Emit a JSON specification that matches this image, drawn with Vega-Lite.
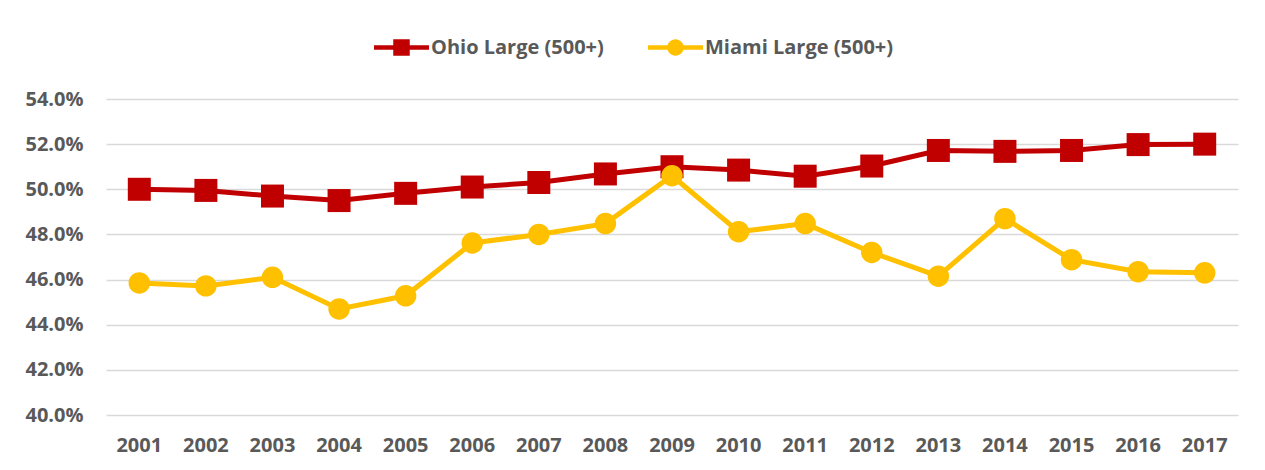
{
  "$schema": "https://vega.github.io/schema/vega-lite/v6.json",
  "autosize": {"type": "none"},
  "padding": {"left": 106, "top": 99, "right": 27, "bottom": 55},
  "width": 1132,
  "height": 316,
  "background": "white",
  "config": {
    "font": "Open Sans",
    "view": {"stroke": null},
    "legend": {
      "title": null, "labelFontSize": 20, "labelFontWeight": "bold", "labelColor": "#595959",
      "labelLimit": 400, "symbolSize": 3025, "labelOffset": 2, "symbolStrokeWidth": 0,
      "orient": "none", "direction": "horizontal"
    }
  },
  "data": {
    "values": [
      {"year": "2001", "series": "Ohio Large (500+)", "value": 0.5000},
      {"year": "2002", "series": "Ohio Large (500+)", "value": 0.4995},
      {"year": "2003", "series": "Ohio Large (500+)", "value": 0.4970},
      {"year": "2004", "series": "Ohio Large (500+)", "value": 0.4950},
      {"year": "2005", "series": "Ohio Large (500+)", "value": 0.4982},
      {"year": "2006", "series": "Ohio Large (500+)", "value": 0.5010},
      {"year": "2007", "series": "Ohio Large (500+)", "value": 0.5030},
      {"year": "2008", "series": "Ohio Large (500+)", "value": 0.5068},
      {"year": "2009", "series": "Ohio Large (500+)", "value": 0.5100},
      {"year": "2010", "series": "Ohio Large (500+)", "value": 0.5085},
      {"year": "2011", "series": "Ohio Large (500+)", "value": 0.5058},
      {"year": "2012", "series": "Ohio Large (500+)", "value": 0.5103},
      {"year": "2013", "series": "Ohio Large (500+)", "value": 0.5172},
      {"year": "2014", "series": "Ohio Large (500+)", "value": 0.5168},
      {"year": "2015", "series": "Ohio Large (500+)", "value": 0.5172},
      {"year": "2016", "series": "Ohio Large (500+)", "value": 0.5198},
      {"year": "2017", "series": "Ohio Large (500+)", "value": 0.5200},
      {"year": "2001", "series": "Miami  Large (500+)", "value": 0.4585},
      {"year": "2002", "series": "Miami  Large (500+)", "value": 0.4572},
      {"year": "2003", "series": "Miami  Large (500+)", "value": 0.4610},
      {"year": "2004", "series": "Miami  Large (500+)", "value": 0.4470},
      {"year": "2005", "series": "Miami  Large (500+)", "value": 0.4528},
      {"year": "2006", "series": "Miami  Large (500+)", "value": 0.4762},
      {"year": "2007", "series": "Miami  Large (500+)", "value": 0.4800},
      {"year": "2008", "series": "Miami  Large (500+)", "value": 0.4848},
      {"year": "2009", "series": "Miami  Large (500+)", "value": 0.5060},
      {"year": "2010", "series": "Miami  Large (500+)", "value": 0.4812},
      {"year": "2011", "series": "Miami  Large (500+)", "value": 0.4848},
      {"year": "2012", "series": "Miami  Large (500+)", "value": 0.4720},
      {"year": "2013", "series": "Miami  Large (500+)", "value": 0.4615},
      {"year": "2014", "series": "Miami  Large (500+)", "value": 0.4870},
      {"year": "2015", "series": "Miami  Large (500+)", "value": 0.4688},
      {"year": "2016", "series": "Miami  Large (500+)", "value": 0.4635},
      {"year": "2017", "series": "Miami  Large (500+)", "value": 0.4630}
    ]
  },
  "encoding": {
    "x": {
      "field": "year", "type": "ordinal", "title": null,
      "scale": {"type": "band", "paddingInner": 0, "paddingOuter": 0},
      "axis": {
        "labelAngle": 0, "labelFontSize": 20, "labelFontWeight": "bold",
        "labelColor": "#595959", "labelPadding": 20, "ticks": false,
        "domain": false, "grid": false
      }
    },
    "y": {
      "field": "value", "type": "quantitative", "title": null,
      "scale": {"domain": [0.4, 0.54], "nice": false, "zero": false},
      "axis": {
        "format": ".1%", "values": [0.40, 0.42, 0.44, 0.46, 0.48, 0.50, 0.52, 0.54],
        "labelFontSize": 20, "labelFontWeight": "bold", "labelColor": "#595959",
        "labelPadding": 23, "ticks": false, "domain": false,
        "gridColor": "#d9d9d9", "gridWidth": 1.5
      }
    }
  },
  "layer": [
    {
      "transform": [{"filter": "datum.series === 'Ohio Large (500+)'"}],
      "encoding": {
        "color": {
          "field": "series", "type": "nominal",
          "scale": {"domain": ["Ohio Large (500+)"], "range": ["#C00000"]},
          "legend": {
            "legendX": 268, "legendY": -79,
            "symbolType": "M-1,-0.08H1V0.08H-1Z M-0.3,-0.3H0.3V0.3H-0.3Z",
            "symbolFillColor": "#C00000"
          }
        }
      },
      "layer": [
        {"mark": {"type": "line", "strokeWidth": 5}},
        {"mark": {"type": "point", "shape": "square", "filled": true, "opacity": 1, "size": 529}}
      ]
    },
    {
      "transform": [{"filter": "datum.series === 'Miami  Large (500+)'"}],
      "encoding": {
        "color": {
          "field": "series", "type": "nominal",
          "scale": {"domain": ["Miami  Large (500+)"], "range": ["#FFC000"]},
          "legend": {
            "legendX": 542, "legendY": -79,
            "symbolType": "M-1,-0.08H1V0.08H-1Z M-0.3,0A0.3,0.3 0 1,1 0.3,0A0.3,0.3 0 1,1 -0.3,0Z",
            "symbolFillColor": "#FFC000"
          }
        }
      },
      "layer": [
        {"mark": {"type": "line", "strokeWidth": 5}},
        {"mark": {"type": "point", "shape": "circle", "filled": true, "opacity": 1, "size": 460}}
      ]
    }
  ],
  "resolve": {"scale": {"color": "independent"}, "legend": {"color": "independent"}}
}
